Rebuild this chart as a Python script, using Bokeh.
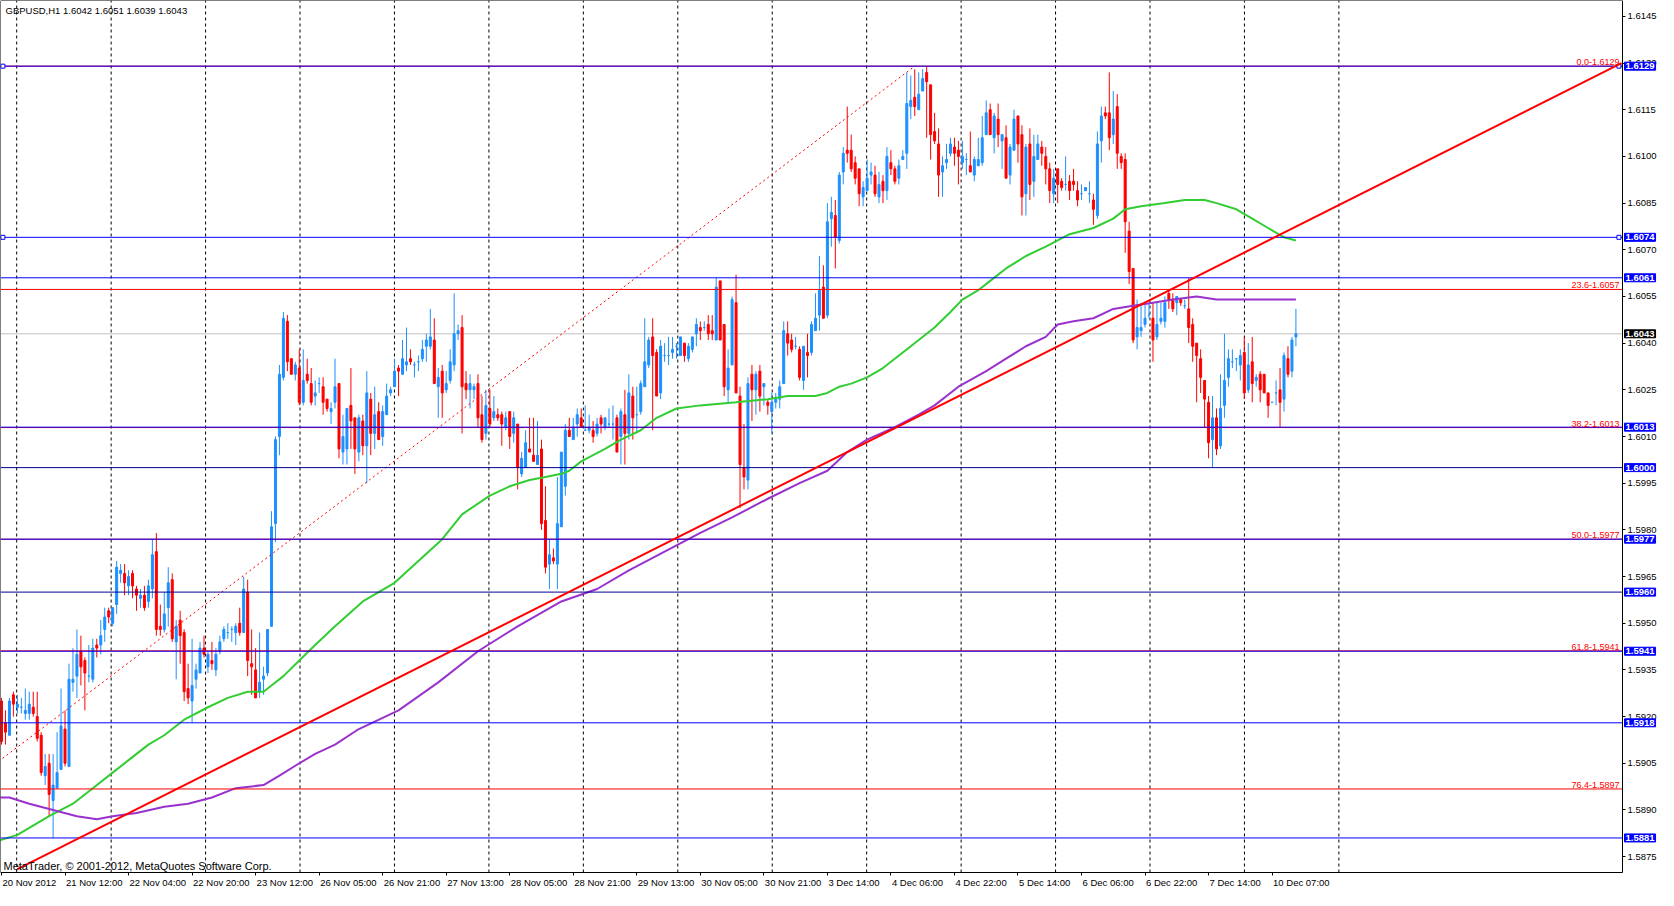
from bokeh.plotting import figure
from bokeh.models import (Range1d, FixedTicker, PrintfTickFormatter, CustomJSTickFormatter,
                          ColumnDataSource, Label, LabelSet, LinearAxis)
from bokeh.core.properties import value
from bokeh.embed import file_html
from bokeh.resources import INLINE

title_text = "GBPUSD,H1  1.6042 1.6051 1.6039 1.6043"
footer_text = "MetaTrader, \u00a9 2001-2012, MetaQuotes Software Corp."

# ---- hourly candles (bar 0 = 20 Nov 2012 20:00) ----
opens = [
    1.5925, 1.5918, 1.5914, 1.5927, 1.5923, 1.5923, 1.5921, 1.5921, 1.5923, 1.5920,
    1.5914, 1.5901, 1.5905, 1.5893, 1.5897, 1.5903, 1.5916, 1.5904, 1.5931, 1.5933,
    1.5941, 1.5938, 1.5933, 1.5932, 1.5943, 1.5943, 1.5948, 1.5954, 1.5950, 1.5956,
    1.5966, 1.5966, 1.5962, 1.5966, 1.5961, 1.5958, 1.5959, 1.5957, 1.5961, 1.5973,
    1.5949, 1.5948, 1.5955, 1.5964, 1.5944, 1.5951, 1.5947, 1.5929, 1.5925, 1.5932,
    1.5934, 1.5942, 1.5936, 1.5938, 1.5935, 1.5941, 1.5945, 1.5947, 1.5948, 1.5947,
    1.5950, 1.5947, 1.5960, 1.5937, 1.5935, 1.5928, 1.5932, 1.5934, 1.5949, 1.5982,
    1.6010, 1.6029, 1.6047, 1.6035, 1.6030, 1.6032, 1.6021, 1.6030, 1.6027, 1.6023,
    1.6027, 1.6026, 1.6022, 1.6018, 1.6021, 1.6027, 1.6005, 1.6006, 1.6020, 1.6016,
    1.6005, 1.6015, 1.6007, 1.6022, 1.6011, 1.6018, 1.6010, 1.6017, 1.6024, 1.6026,
    1.6032, 1.6030, 1.6033, 1.6035, 1.6033, 1.6034, 1.6035, 1.6039, 1.6039, 1.6041,
    1.6026, 1.6031, 1.6025, 1.6028, 1.6033, 1.6043, 1.6045, 1.6027, 1.6025, 1.6025,
    1.6027, 1.6017, 1.6011, 1.6019, 1.6016, 1.6017, 1.6017, 1.6013, 1.6018, 1.6011,
    1.6014, 1.5998, 1.6000, 1.6006, 1.6004, 1.6001, 1.6006, 1.5983, 1.5969, 1.5971,
    1.5969, 1.5981, 1.5994, 1.6012, 1.6009, 1.6014, 1.6016, 1.6012, 1.6012, 1.6012,
    1.6011, 1.6016, 1.6013, 1.6014, 1.6014, 1.6016, 1.6010, 1.6017, 1.6011, 1.6023,
    1.6017, 1.6018, 1.6026, 1.6033, 1.6042, 1.6037, 1.6024, 1.6036, 1.6036, 1.6037,
    1.6039, 1.6036, 1.6040, 1.6035, 1.6038, 1.6043, 1.6045, 1.6045, 1.6046, 1.6044,
    1.6041, 1.6060, 1.6046, 1.6025, 1.6033, 1.6053, 1.6023, 1.6000, 1.5996, 1.6030,
    1.6025, 1.6031, 1.6026, 1.6021, 1.6018, 1.6021, 1.6022, 1.6027, 1.6043, 1.6041,
    1.6039, 1.6038, 1.6028, 1.6037, 1.6037, 1.6044, 1.6049, 1.6058, 1.6049, 1.6080,
    1.6081, 1.6073, 1.6095, 1.6102, 1.6102, 1.6098, 1.6096, 1.6087, 1.6089, 1.6094,
    1.6094, 1.6087, 1.6092, 1.6089, 1.6098, 1.6096, 1.6093, 1.6099, 1.6101, 1.6116,
    1.6119, 1.6115, 1.6121, 1.6127, 1.6123, 1.6108, 1.6104, 1.6095, 1.6098, 1.6101,
    1.6103, 1.6102, 1.6098, 1.6099, 1.6097, 1.6094, 1.6097, 1.6098, 1.6107, 1.6115,
    1.6106, 1.6112, 1.6105, 1.6106, 1.6094, 1.6102, 1.6113, 1.6107, 1.6088, 1.6104,
    1.6092, 1.6099, 1.6103, 1.6100, 1.6096, 1.6088, 1.6096, 1.6092, 1.6091, 1.6092,
    1.6092, 1.6089, 1.6088, 1.6089, 1.6088, 1.6086, 1.6081, 1.6105, 1.6114, 1.6114,
    1.6107, 1.6116, 1.6100, 1.6099, 1.6076, 1.6064, 1.6042, 1.6044, 1.6046, 1.6049,
    1.6048, 1.6042, 1.6047, 1.6047, 1.6056, 1.6054, 1.6053, 1.6054, 1.6052, 1.6051,
    1.6046, 1.6040, 1.6035, 1.6028, 1.6021, 1.6009, 1.6016, 1.6007, 1.6020, 1.6029,
    1.6034, 1.6035, 1.6033, 1.6037, 1.6025, 1.6034, 1.6028, 1.6030, 1.6030, 1.6024,
    1.6021, 1.6024, 1.6025, 1.6022, 1.6035, 1.6031, 1.6042,
]
highs = [
    1.5926, 1.5922, 1.5926, 1.5928, 1.5927, 1.5926, 1.5929, 1.5928, 1.5928, 1.5928,
    1.5915, 1.5908, 1.5908, 1.5908, 1.5915, 1.5929, 1.5922, 1.5937, 1.5942, 1.5948,
    1.5946, 1.5939, 1.5943, 1.5945, 1.5945, 1.5951, 1.5955, 1.5955, 1.5955, 1.5970,
    1.5969, 1.5969, 1.5967, 1.5967, 1.5962, 1.5961, 1.5962, 1.5964, 1.5977, 1.5979,
    1.5956, 1.5960, 1.5968, 1.5966, 1.5951, 1.5954, 1.5948, 1.5937, 1.5945, 1.5937,
    1.5944, 1.5946, 1.5941, 1.5944, 1.5942, 1.5946, 1.5949, 1.5950, 1.5949, 1.5950,
    1.5955, 1.5965, 1.5964, 1.5948, 1.5942, 1.5947, 1.5936, 1.5948, 1.5986, 1.6010,
    1.6033, 1.6050, 1.6049, 1.6035, 1.6034, 1.6038, 1.6038, 1.6035, 1.6032, 1.6028,
    1.6029, 1.6029, 1.6022, 1.6021, 1.6035, 1.6027, 1.6017, 1.6019, 1.6032, 1.6016,
    1.6017, 1.6017, 1.6031, 1.6024, 1.6026, 1.6021, 1.6020, 1.6027, 1.6026, 1.6035,
    1.6033, 1.6041, 1.6045, 1.6038, 1.6034, 1.6036, 1.6041, 1.6043, 1.6051, 1.6048,
    1.6032, 1.6033, 1.6031, 1.6038, 1.6056, 1.6046, 1.6049, 1.6031, 1.6030, 1.6027,
    1.6030, 1.6023, 1.6025, 1.6025, 1.6023, 1.6019, 1.6018, 1.6018, 1.6018, 1.6018,
    1.6014, 1.6005, 1.6012, 1.6016, 1.6016, 1.6015, 1.6009, 1.5994, 1.5977, 1.5974,
    1.5997, 1.6005, 1.6014, 1.6016, 1.6016, 1.6019, 1.6019, 1.6020, 1.6017, 1.6015,
    1.6016, 1.6017, 1.6016, 1.6019, 1.6020, 1.6017, 1.6019, 1.6025, 1.6030, 1.6026,
    1.6026, 1.6028, 1.6048, 1.6042, 1.6048, 1.6038, 1.6041, 1.6040, 1.6042, 1.6042,
    1.6040, 1.6042, 1.6040, 1.6040, 1.6042, 1.6048, 1.6047, 1.6047, 1.6049, 1.6049,
    1.6061, 1.6060, 1.6046, 1.6038, 1.6055, 1.6062, 1.6026, 1.6014, 1.6029, 1.6033,
    1.6031, 1.6033, 1.6027, 1.6022, 1.6024, 1.6024, 1.6028, 1.6047, 1.6047, 1.6043,
    1.6042, 1.6039, 1.6039, 1.6043, 1.6047, 1.6056, 1.6068, 1.6065, 1.6085, 1.6087,
    1.6086, 1.6095, 1.6103, 1.6116, 1.6107, 1.6100, 1.6096, 1.6092, 1.6099, 1.6098,
    1.6097, 1.6095, 1.6094, 1.6103, 1.6102, 1.6097, 1.6099, 1.6102, 1.6127, 1.6126,
    1.6128, 1.6127, 1.6128, 1.6129, 1.6123, 1.6114, 1.6109, 1.6100, 1.6104, 1.6106,
    1.6106, 1.6105, 1.6105, 1.6101, 1.6108, 1.6100, 1.6106, 1.6113, 1.6118, 1.6117,
    1.6114, 1.6117, 1.6107, 1.6110, 1.6104, 1.6115, 1.6113, 1.6110, 1.6104, 1.6109,
    1.6107, 1.6107, 1.6105, 1.6103, 1.6098, 1.6096, 1.6096, 1.6093, 1.6100, 1.6094,
    1.6096, 1.6092, 1.6091, 1.6090, 1.6092, 1.6088, 1.6108, 1.6116, 1.6116, 1.6127,
    1.6121, 1.6120, 1.6101, 1.6101, 1.6079, 1.6064, 1.6054, 1.6053, 1.6053, 1.6053,
    1.6053, 1.6053, 1.6053, 1.6055, 1.6057, 1.6056, 1.6055, 1.6054, 1.6054, 1.6061,
    1.6048, 1.6040, 1.6038, 1.6028, 1.6023, 1.6023, 1.6019, 1.6030, 1.6043, 1.6038,
    1.6038, 1.6035, 1.6038, 1.6042, 1.6040, 1.6042, 1.6030, 1.6031, 1.6030, 1.6024,
    1.6021, 1.6028, 1.6032, 1.6037, 1.6039, 1.6042, 1.6051,
]
lows = [
    1.5911, 1.5911, 1.5914, 1.5920, 1.5921, 1.5921, 1.5919, 1.5919, 1.5920, 1.5912,
    1.5901, 1.5898, 1.5888, 1.5881, 1.5897, 1.5903, 1.5904, 1.5904, 1.5928, 1.5926,
    1.5930, 1.5922, 1.5931, 1.5931, 1.5939, 1.5940, 1.5944, 1.5950, 1.5949, 1.5953,
    1.5963, 1.5959, 1.5959, 1.5958, 1.5954, 1.5955, 1.5954, 1.5955, 1.5958, 1.5946,
    1.5946, 1.5947, 1.5949, 1.5944, 1.5932, 1.5937, 1.5925, 1.5924, 1.5918, 1.5929,
    1.5934, 1.5939, 1.5934, 1.5935, 1.5933, 1.5940, 1.5944, 1.5945, 1.5944, 1.5943,
    1.5946, 1.5947, 1.5933, 1.5927, 1.5926, 1.5926, 1.5927, 1.5933, 1.5949, 1.5976,
    1.6004, 1.6028, 1.6031, 1.6030, 1.6028, 1.6020, 1.6020, 1.6027, 1.6020, 1.6020,
    1.6024, 1.6017, 1.6018, 1.6014, 1.6019, 1.6003, 1.6001, 1.6001, 1.6006, 1.5998,
    1.6002, 1.6004, 1.5995, 1.6004, 1.6006, 1.6009, 1.6007, 1.6017, 1.6023, 1.6026,
    1.6023, 1.6030, 1.6031, 1.6033, 1.6029, 1.6031, 1.6034, 1.6034, 1.6038, 1.6027,
    1.6016, 1.6016, 1.6024, 1.6027, 1.6031, 1.6041, 1.6011, 1.6022, 1.6019, 1.6022,
    1.6013, 1.6008, 1.6009, 1.6013, 1.6015, 1.6015, 1.6007, 1.6012, 1.6006, 1.6008,
    1.5993, 1.5997, 1.6000, 1.6005, 1.6002, 1.6001, 1.5980, 1.5966, 1.5961, 1.5969,
    1.5961, 1.5981, 1.5991, 1.6010, 1.6009, 1.6010, 1.6013, 1.6012, 1.6011, 1.6008,
    1.6010, 1.6011, 1.6012, 1.6013, 1.6009, 1.6005, 1.6001, 1.6001, 1.6009, 1.6009,
    1.6011, 1.6017, 1.6026, 1.6032, 1.6012, 1.6023, 1.6022, 1.6034, 1.6033, 1.6035,
    1.6035, 1.6036, 1.6034, 1.6034, 1.6037, 1.6039, 1.6041, 1.6044, 1.6041, 1.6041,
    1.6041, 1.6041, 1.6023, 1.6021, 1.6033, 1.6024, 1.5987, 1.5993, 1.5993, 1.6015,
    1.6017, 1.6018, 1.6020, 1.6017, 1.6011, 1.6019, 1.6019, 1.6027, 1.6036, 1.6037,
    1.6038, 1.6028, 1.6025, 1.6029, 1.6036, 1.6044, 1.6044, 1.6048, 1.6048, 1.6071,
    1.6064, 1.6072, 1.6091, 1.6098, 1.6095, 1.6091, 1.6084, 1.6084, 1.6089, 1.6091,
    1.6087, 1.6085, 1.6085, 1.6086, 1.6094, 1.6091, 1.6091, 1.6099, 1.6096, 1.6112,
    1.6113, 1.6115, 1.6121, 1.6106, 1.6099, 1.6104, 1.6087, 1.6087, 1.6096, 1.6100,
    1.6097, 1.6091, 1.6096, 1.6094, 1.6095, 1.6092, 1.6097, 1.6097, 1.6107, 1.6107,
    1.6101, 1.6103, 1.6096, 1.6093, 1.6091, 1.6102, 1.6098, 1.6081, 1.6081, 1.6086,
    1.6087, 1.6099, 1.6097, 1.6091, 1.6085, 1.6085, 1.6085, 1.6089, 1.6089, 1.6086,
    1.6089, 1.6084, 1.6086, 1.6089, 1.6085, 1.6078, 1.6080, 1.6098, 1.6112, 1.6102,
    1.6104, 1.6096, 1.6096, 1.6069, 1.6059, 1.6040, 1.6038, 1.6042, 1.6045, 1.6048,
    1.6034, 1.6041, 1.6046, 1.6045, 1.6051, 1.6050, 1.6049, 1.6052, 1.6051, 1.6040,
    1.6034, 1.6021, 1.6024, 1.6013, 1.6003, 1.6000, 1.6004, 1.6006, 1.6016, 1.6026,
    1.6032, 1.6031, 1.6028, 1.6022, 1.6024, 1.6021, 1.6026, 1.6021, 1.6024, 1.6016,
    1.6021, 1.6020, 1.6013, 1.6018, 1.6029, 1.6029, 1.6039,
]
closes = [
    1.5912, 1.5915, 1.5925, 1.5924, 1.5924, 1.5923, 1.5922, 1.5924, 1.5921, 1.5913,
    1.5902, 1.5904, 1.5895, 1.5898, 1.5902, 1.5917, 1.5905, 1.5932, 1.5932, 1.5940,
    1.5936, 1.5934, 1.5933, 1.5942, 1.5942, 1.5946, 1.5952, 1.5952, 1.5955, 1.5968,
    1.5967, 1.5963, 1.5965, 1.5962, 1.5959, 1.5959, 1.5955, 1.5962, 1.5972, 1.5948,
    1.5948, 1.5953, 1.5963, 1.5945, 1.5949, 1.5946, 1.5928, 1.5926, 1.5930, 1.5935,
    1.5942, 1.5940, 1.5940, 1.5937, 1.5940, 1.5944, 1.5948, 1.5947, 1.5948, 1.5949,
    1.5947, 1.5961, 1.5938, 1.5936, 1.5926, 1.5931, 1.5933, 1.5948, 1.5981, 1.6009,
    1.6030, 1.6048, 1.6034, 1.6030, 1.6033, 1.6021, 1.6028, 1.6028, 1.6021, 1.6024,
    1.6027, 1.6021, 1.6019, 1.6019, 1.6026, 1.6006, 1.6010, 1.6019, 1.6015, 1.6006,
    1.6016, 1.6007, 1.6024, 1.6011, 1.6017, 1.6009, 1.6018, 1.6023, 1.6025, 1.6031,
    1.6031, 1.6035, 1.6034, 1.6034, 1.6033, 1.6034, 1.6038, 1.6041, 1.6042, 1.6027,
    1.6029, 1.6024, 1.6027, 1.6034, 1.6043, 1.6044, 1.6026, 1.6025, 1.6027, 1.6026,
    1.6016, 1.6009, 1.6020, 1.6014, 1.6018, 1.6016, 1.6014, 1.6016, 1.6010, 1.6016,
    1.6000, 1.6003, 1.6008, 1.6005, 1.6002, 1.6004, 1.5982, 1.5968, 1.5972, 1.5970,
    1.5982, 1.6005, 1.6012, 1.6010, 1.6013, 1.6017, 1.6013, 1.6012, 1.6013, 1.6010,
    1.6014, 1.6014, 1.6016, 1.6014, 1.6014, 1.6005, 1.6018, 1.6011, 1.6024, 1.6016,
    1.6017, 1.6027, 1.6034, 1.6041, 1.6036, 1.6023, 1.6039, 1.6036, 1.6036, 1.6038,
    1.6039, 1.6042, 1.6036, 1.6039, 1.6042, 1.6046, 1.6044, 1.6045, 1.6043, 1.6043,
    1.6058, 1.6041, 1.6026, 1.6032, 1.6054, 1.6024, 1.6001, 1.5997, 1.6027, 1.6025,
    1.6030, 1.6023, 1.6027, 1.6020, 1.6021, 1.6022, 1.6026, 1.6044, 1.6040, 1.6038,
    1.6039, 1.6029, 1.6039, 1.6036, 1.6046, 1.6048, 1.6057, 1.6048, 1.6079, 1.6082,
    1.6074, 1.6094, 1.6101, 1.6101, 1.6096, 1.6093, 1.6088, 1.6090, 1.6093, 1.6095,
    1.6088, 1.6091, 1.6089, 1.6100, 1.6096, 1.6092, 1.6097, 1.6100, 1.6117, 1.6118,
    1.6116, 1.6120, 1.6125, 1.6124, 1.6107, 1.6105, 1.6094, 1.6097, 1.6099, 1.6104,
    1.6101, 1.6100, 1.6100, 1.6099, 1.6095, 1.6099, 1.6099, 1.6106, 1.6114, 1.6107,
    1.6113, 1.6107, 1.6107, 1.6093, 1.6103, 1.6112, 1.6104, 1.6087, 1.6103, 1.6091,
    1.6100, 1.6104, 1.6101, 1.6096, 1.6089, 1.6093, 1.6091, 1.6090, 1.6091, 1.6089,
    1.6091, 1.6086, 1.6088, 1.6090, 1.6088, 1.6083, 1.6104, 1.6113, 1.6113, 1.6106,
    1.6112, 1.6101, 1.6098, 1.6079, 1.6063, 1.6041, 1.6045, 1.6045, 1.6048, 1.6049,
    1.6041, 1.6046, 1.6048, 1.6053, 1.6054, 1.6051, 1.6055, 1.6053, 1.6052, 1.6045,
    1.6039, 1.6036, 1.6029, 1.6022, 1.6008, 1.6016, 1.6006, 1.6019, 1.6028, 1.6035,
    1.6034, 1.6035, 1.6036, 1.6024, 1.6033, 1.6027, 1.6029, 1.6025, 1.6024, 1.6020,
    1.6021, 1.6024, 1.6021, 1.6036, 1.6030, 1.6041, 1.6043,
]

# ---- moving averages (read at sample bars) ----
green_bars = [-1, 4, 12, 18, 23, 28, 32, 37, 41, 46, 52, 57, 62, 66, 68, 71, 75, 79, 84, 91,
              99, 105, 111, 116, 123, 128, 133, 137, 141, 143, 146, 152, 156, 161, 165, 170,
              176, 185, 193, 198, 205, 208, 211, 214, 218, 222, 227, 231, 235, 239, 242, 246,
              249, 253, 258, 263, 269, 275, 280, 283, 287, 293, 298, 303, 306, 311, 315, 319,
              323, 326]
green_ma = [1.5880, 1.5882, 1.5888, 1.5892, 1.5897, 1.5902, 1.5906, 1.5911, 1.5914, 1.5919,
            1.5923, 1.5926, 1.5928, 1.5928, 1.5930, 1.5933, 1.5938, 1.5943, 1.5949, 1.5957,
            1.5963, 1.5970, 1.5977, 1.5985, 1.5991, 1.5994, 1.5996, 1.5997, 1.5998, 1.5999,
            1.6002, 1.6006, 1.6009, 1.6012, 1.6016, 1.6019, 1.6020, 1.6021, 1.6022, 1.6023,
            1.6023, 1.6024, 1.6026, 1.6027, 1.6029, 1.6032, 1.6037, 1.6041, 1.6045, 1.6050,
            1.6054, 1.6057, 1.6060, 1.6064, 1.6068, 1.6071, 1.6075, 1.6077, 1.6080, 1.6083,
            1.6084, 1.6085, 1.6086, 1.6086, 1.6085, 1.6083, 1.6080, 1.6077, 1.6074, 1.6073]
purple_bars = [-1, 2, 7, 13, 19, 24, 28, 34, 41, 47, 53, 59, 66, 70, 75, 79, 84, 90, 100, 110,
               120, 130, 141, 150, 158, 170, 176, 184, 193, 201, 208, 213, 218, 225, 231, 235,
               241, 248, 253, 258, 263, 266, 270, 275, 280, 285, 290, 295, 301, 306, 314, 319, 326]
purple_ma = [1.5894, 1.5894, 1.5892, 1.5890, 1.5888, 1.5887, 1.5888, 1.5889, 1.5891, 1.5892,
             1.5894, 1.5897, 1.5898, 1.5901, 1.5905, 1.5908, 1.5911, 1.5916, 1.5922, 1.5931,
             1.5941, 1.5949, 1.5957, 1.5961, 1.5967, 1.5975, 1.5979, 1.5984, 1.5990, 1.5995,
             1.5999, 1.6005, 1.6009, 1.6013, 1.6017, 1.6020, 1.6026, 1.6031, 1.6035, 1.6039,
             1.6042, 1.6046, 1.6047, 1.6048, 1.6051, 1.6052, 1.6053, 1.6054, 1.6055, 1.6054,
             1.6054, 1.6054, 1.6054]

# ---- objects ----
trend_bars = [4, 408]
trend_prices = [1.5871, 1.6130]
fib_bars = [-84, 230]
fib_prices = [1.5825, 1.6129]
fib_levels = [0.0, 23.6, 38.2, 50.0, 61.8, 76.4]
hline_prices = [1.6129, 1.6074, 1.6061, 1.6013, 1.6000, 1.5977, 1.5960, 1.5941, 1.5918, 1.5881]
dark_hlines = [1.6000, 1.5960]
handle_hlines = [1.6129, 1.6074]

time_labels = ["20 Nov 2012", "21 Nov 12:00", "22 Nov 04:00", "22 Nov 20:00", "23 Nov 12:00",
               "26 Nov 05:00", "26 Nov 21:00", "27 Nov 13:00", "28 Nov 05:00", "28 Nov 21:00",
               "29 Nov 13:00", "30 Nov 05:00", "30 Nov 21:00", "3 Dec 14:00", "4 Dec 06:00",
               "4 Dec 22:00", "5 Dec 14:00", "6 Dec 06:00", "6 Dec 22:00", "7 Dec 14:00",
               "10 Dec 07:00"]
price_ticks = [1.5875, 1.5890, 1.5905, 1.5920, 1.5935, 1.5950, 1.5965, 1.5980, 1.5995, 1.6010,
               1.6025, 1.6040, 1.6055, 1.6070, 1.6085, 1.6100, 1.6115, 1.6130, 1.6145]

# ---- layout / styling ----
BULL = "#1E90FF"
BEAR = "#FF0000"
BLUE = "#0000FF"
FONT = "Liberation Sans"
W, H = 1658, 890          # whole drawing area (frame)
CW, CH = 1622, 872        # chart area inside it (rest = price scale / time scale)
X0, X1 = -0.25, 408.25    # chart bar range
Y0, Y1 = 1.58699, 1.61501 # chart price range
XF = X0 + W * (X1 - X0) / CW
YB = Y0 - (H - CH) * (Y1 - Y0) / CH
BARS_PER_LABEL = 16
GRID_FIRST, GRID_STEP, GRID_N = 3.83, 23.785, 15

n = len(closes)
bars = list(range(n))
colors = [BULL if c >= o else BEAR for o, c in zip(opens, closes)]
src = ColumnDataSource(dict(
    x=bars, o=opens, h=highs, l=lows, c=closes,
    top=[max(o, c) for o, c in zip(opens, closes)],
    bottom=[min(o, c) for o, c in zip(opens, closes)],
    color=colors))

p = figure(frame_width=W, frame_height=H, x_range=Range1d(X0, XF), y_range=Range1d(YB, Y1),
           x_axis_location=None, y_axis_location=None, output_backend="svg",
           toolbar_location=None, min_border=0, min_border_left=0, min_border_right=0,
           min_border_top=0, min_border_bottom=0,
           background_fill_color="white", border_fill_color="white")
p.outline_line_color = None
p.grid.visible = False

# price scale (right) and time scale (bottom) placed on the chart edges
yax = LinearAxis(fixed_location=X1, bounds=(Y0, Y1), ticker=FixedTicker(ticks=price_ticks),
                 formatter=PrintfTickFormatter(format="%.4f"))
yax.major_label_text_font = FONT
yax.major_label_text_font_size = "9.5px"
yax.major_label_text_color = "black"
yax.major_label_standoff = 2
yax.major_tick_in = 0
yax.major_tick_out = 3
yax.minor_tick_in = 0
yax.minor_tick_out = 0
yax.axis_line_color = "black"
yax.major_tick_line_color = "black"
p.add_layout(yax, "right")

label_bars = [i * BARS_PER_LABEL for i in range(len(time_labels))]
xax = LinearAxis(fixed_location=Y0, bounds=(X0, X1), ticker=FixedTicker(ticks=label_bars),
                 formatter=CustomJSTickFormatter(code="return ''"))
xax.major_tick_in = 0
xax.major_tick_out = 3
xax.minor_tick_in = 0
xax.minor_tick_out = 0
xax.axis_line_color = "black"
xax.major_tick_line_color = "black"
p.add_layout(xax, "below")

for loc, side, bnds in [(X0, "left", (Y0, Y1)), (Y1, "above", (X0, X1))]:
    ax = LinearAxis(fixed_location=loc, bounds=bnds, ticker=FixedTicker(ticks=[]))
    ax.axis_line_color = "black"
    ax.major_tick_line_color = None
    ax.minor_tick_line_color = None
    ax.major_label_text_font_size = "0px"
    p.add_layout(ax, side)

# vertical dashed grid
gx = [GRID_FIRST + k * GRID_STEP for k in range(GRID_N)]
p.segment(x0=gx, y0=[Y0] * GRID_N, x1=gx, y1=[Y1] * GRID_N, line_color="black",
          line_width=1, line_dash="3 3")

# bid line
p.segment(x0=[X0], y0=[closes[-1]], x1=[X1], y1=[closes[-1]], line_color="#C0C0C0", line_width=1)

# candles
p.segment(x0="x", y0="l", x1="x", y1="h", line_color="color", line_width=1, source=src)
p.vbar(x="x", width=0.5, top="top", bottom="bottom", fill_color="color", line_color="color",
       line_width=1, source=src)

# moving averages
p.line(green_bars, green_ma, line_color="#32CD32", line_width=2)
p.line(purple_bars, purple_ma, line_color="#9932CC", line_width=2)

# fibonacci
fib_lo, fib_hi = fib_prices
p.line(fib_bars, fib_prices, line_color=BEAR, line_width=1, line_dash="2 3")
fib_vals = [fib_hi - lvl / 100.0 * (fib_hi - fib_lo) for lvl in fib_levels]
p.segment(x0=[X0] * len(fib_vals), y0=fib_vals, x1=[X1] * len(fib_vals), y1=fib_vals,
          line_color=BEAR, line_width=1)
for lvl, price in zip(fib_levels, fib_vals):
    p.add_layout(Label(x=X1, y=price, x_offset=-3, y_offset=1, text=f"{lvl:.1f}-{price:.4f}",
                       text_align="right", text_baseline="bottom", text_color=BEAR,
                       text_font=FONT, text_font_size="9px"))

# horizontal lines
hcols = ["#000090" if v in dark_hlines else BLUE for v in hline_prices]
p.segment(x0=[X0] * len(hline_prices), y0=hline_prices, x1=[X1] * len(hline_prices),
          y1=hline_prices, line_color=hcols, line_width=1)

hx, hy = [], []
for price in handle_hlines:
    hx += [X0 + 0.6, X1 - 0.9]
    hy += [price, price]
p.scatter(hx, hy, marker="square", size=4, fill_color="white", line_color=BLUE, line_width=1)

# trend line
p.line(trend_bars, trend_prices, line_color=BEAR, line_width=2)

# price tags on the scale
for price in hline_prices:
    p.add_layout(Label(x=X1, y=price, x_offset=2, text=f"{price:.4f}", text_align="left",
                       text_baseline="middle", text_color="white", text_font=FONT,
                       text_font_size="9.5px", text_font_style="bold",
                       background_fill_color=BLUE, border_line_color=BLUE, padding=1))
p.add_layout(Label(x=X1, y=closes[-1], x_offset=2, text=f"{closes[-1]:.4f}", text_align="left",
                   text_baseline="middle", text_color="white", text_font=FONT,
                   text_font_size="9.5px", text_font_style="bold",
                   background_fill_color="black", border_line_color="black", padding=1))

# time labels
tsrc = ColumnDataSource(dict(x=label_bars, text=time_labels))
p.add_layout(LabelSet(x="x", y=Y0, y_offset=-10, text="text", source=tsrc, x_offset=1,
                      text_align="left", text_baseline="middle", text_color="black",
                      text_font=value(FONT), text_font_size=value("9.5px")))

# header / footer text
p.add_layout(Label(x=X0, y=Y1, x_offset=5, y_offset=-10, text=title_text,
                   text_align="left", text_baseline="middle", text_color="black",
                   text_font=FONT, text_font_size="9.5px"))
p.add_layout(Label(x=X0, y=Y0, x_offset=3, y_offset=7, text=footer_text,
                   text_align="left", text_baseline="middle", text_color="black",
                   text_font=FONT, text_font_size="11px"))

open("out.html", "w").write(file_html(p, INLINE))
